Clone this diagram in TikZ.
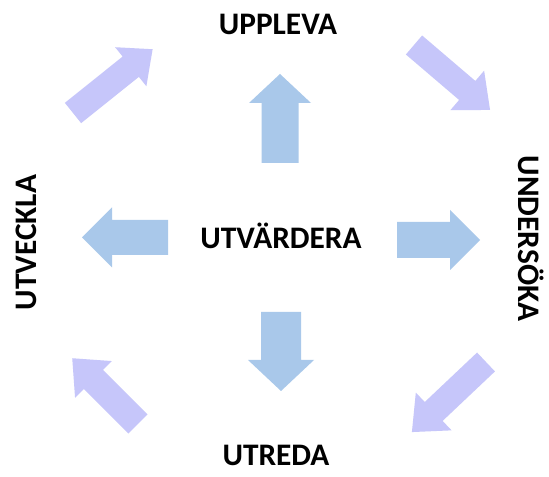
\documentclass[tikz,border=0pt]{standalone}
\usepackage{fontspec}
\setmainfont{Carlito}
\begin{document}
\begin{tikzpicture}[x=0.75pt,y=0.75pt]
\definecolor{centerblue}{RGB}{169,200,234}
\definecolor{lavender}{RGB}{198,198,250}
\tikzset{
  lbl/.style={font=\fontsize{23.5}{28}\selectfont\bfseries, text=black, inner sep=0pt, anchor=base},
}
% #1 x, #2 y (tail centre), #3 angle, #4 length, #5 shaft half width, #6 head half width, #7 head length, #8 colour
\newcommand\blockarr[8]{%
  \fill[#8,shift={(#1,#2)},rotate=#3]
    (0,-#5) -- ({#4-#7},-#5) -- ({#4-#7},-#6) -- (#4,0) -- ({#4-#7},#6) -- ({#4-#7},#5) -- (0,#5) -- cycle;}
\path[use as bounding box, fill=white] (0,0) rectangle (549,477);
% centre arrows
\blockarr{280}{314}{90}{89}{18.5}{31}{29}{centerblue}
\blockarr{281}{165}{-90}{79}{20}{33}{31}{centerblue}
\blockarr{168}{239.5}{180}{86}{17.5}{30}{30}{centerblue}
\blockarr{397}{237}{0}{83}{18}{30}{30}{centerblue}
% diagonal arrows
\blockarr{73}{364}{38.7}{102}{13}{25}{28}{lavender}
\blockarr{414}{432}{-40.5}{100}{12.5}{26}{30}{lavender}
\blockarr{138}{53}{135}{93}{13.5}{26}{30}{lavender}
\blockarr{486}{115}{223.4}{102}{13}{26}{30}{lavender}
% labels
\node[lbl] (upp) at (278,442) {UPPLEVA};
\node[lbl] (utv) at (281,228) {UTVÄRDERA};
\node[lbl] (utr) at (276,11) {UTREDA};
\node[lbl, rotate=90] (uvk) at (37,234.5) {UTVECKLA};
\node[lbl, rotate=-90] (und) at (518,238.5) {UNDERSÖKA};
\end{tikzpicture}
\end{document}
